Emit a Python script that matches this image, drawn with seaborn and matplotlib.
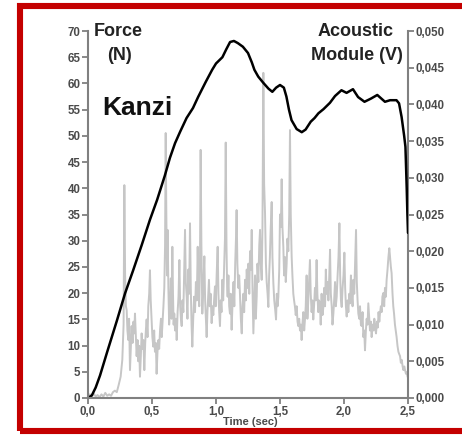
import matplotlib
matplotlib.use("Agg")
import matplotlib.pyplot as plt
import matplotlib.patches as mpatches
import seaborn as sns

# force trace (N)
force_t = [0.00, 0.03, 0.06, 0.094, 0.15, 0.225, 0.29, 0.352, 0.42, 0.484,
           0.54, 0.60, 0.64, 0.68, 0.72, 0.77, 0.82, 0.86, 0.92, 0.97,
           1.00, 1.05, 1.08, 1.11, 1.14, 1.17, 1.21, 1.25, 1.28, 1.30,
           1.33, 1.37, 1.41, 1.44, 1.47, 1.50, 1.53, 1.55, 1.57, 1.59,
           1.63, 1.67, 1.70, 1.74, 1.77, 1.80, 1.84, 1.89, 1.93, 1.98,
           2.02, 2.07, 2.11, 2.16, 2.21, 2.26, 2.32, 2.36, 2.41, 2.43,
           2.45, 2.47, 2.48, 2.49, 2.495, 2.50]
force_n = [0.0, 0.5, 2.0, 4.3, 8.8, 14.7, 20.0, 24.3, 29.2, 34.0,
           37.8, 42.4, 45.8, 48.6, 50.8, 53.4, 55.3, 57.4, 60.3, 62.6,
           63.8, 65.0, 66.5, 67.9, 68.1, 67.7, 67.0, 65.8, 64.0, 62.6,
           61.3, 60.1, 59.0, 58.4, 59.2, 59.7, 59.2, 57.5, 55.0, 53.0,
           51.3, 50.7, 51.2, 52.7, 53.4, 54.3, 55.1, 56.3, 57.6, 58.7,
           58.2, 58.9, 57.4, 56.5, 57.1, 57.8, 56.5, 56.8, 56.8, 56.2,
           53.6, 50.0, 47.9, 40.0, 35.3, 31.5]

# acoustic module trace (V)
acoustic_t = [
    0.000, 0.015, 0.030, 0.045, 0.060, 0.075, 0.090, 0.105, 0.120, 0.135,
    0.150, 0.165, 0.180, 0.195, 0.210, 0.225, 0.240, 0.255, 0.268, 0.278,
    0.284, 0.290, 0.296, 0.302, 0.308, 0.315, 0.321, 0.328, 0.334, 0.341,
    0.348, 0.355, 0.361, 0.367, 0.374, 0.380, 0.387, 0.393, 0.400, 0.406,
    0.413, 0.419, 0.426, 0.433, 0.440, 0.447, 0.452, 0.458, 0.465, 0.471,
    0.478, 0.484, 0.490, 0.497, 0.503, 0.510, 0.517, 0.523, 0.530, 0.536,
    0.543, 0.550, 0.556, 0.563, 0.570, 0.576, 0.583, 0.589, 0.596, 0.602,
    0.607, 0.612, 0.617, 0.622, 0.628, 0.634, 0.641, 0.647, 0.653, 0.659,
    0.664, 0.669, 0.674, 0.680, 0.687, 0.693, 0.700, 0.707, 0.714, 0.720,
    0.726, 0.732, 0.738, 0.745, 0.751, 0.758, 0.764, 0.771, 0.777, 0.784,
    0.790, 0.797, 0.803, 0.809, 0.815, 0.822, 0.829, 0.836, 0.843, 0.850,
    0.857, 0.863, 0.869, 0.875, 0.880, 0.886, 0.893, 0.900, 0.909, 0.915,
    0.921, 0.927, 0.933, 0.939, 0.945, 0.951, 0.958, 0.966, 0.972, 0.979,
    0.985, 0.992, 0.998, 1.005, 1.013, 1.019, 1.025, 1.031, 1.037, 1.043,
    1.049, 1.056, 1.063, 1.070, 1.076, 1.082, 1.087, 1.091, 1.097, 1.103,
    1.109, 1.115, 1.122, 1.130, 1.137, 1.143, 1.150, 1.156, 1.161, 1.167,
    1.174, 1.181, 1.188, 1.194, 1.201, 1.207, 1.214, 1.220, 1.227, 1.233,
    1.240, 1.247, 1.253, 1.260, 1.266, 1.273, 1.279, 1.285, 1.292, 1.298,
    1.305, 1.311, 1.318, 1.324, 1.331, 1.338, 1.344, 1.350, 1.357, 1.363,
    1.370, 1.376, 1.383, 1.390, 1.396, 1.403, 1.409, 1.415, 1.421, 1.427,
    1.435, 1.441, 1.448, 1.455, 1.462, 1.469, 1.475, 1.481, 1.487, 1.494,
    1.500, 1.507, 1.513, 1.519, 1.526, 1.532, 1.539, 1.545, 1.552, 1.558,
    1.565, 1.572, 1.578, 1.584, 1.591, 1.597, 1.604, 1.610, 1.617, 1.623,
    1.630, 1.637, 1.643, 1.650, 1.656, 1.663, 1.669, 1.675, 1.682, 1.689,
    1.695, 1.701, 1.708, 1.714, 1.721, 1.727, 1.734, 1.740, 1.747, 1.753,
    1.760, 1.766, 1.773, 1.779, 1.786, 1.792, 1.799, 1.805, 1.812, 1.818,
    1.825, 1.832, 1.839, 1.845, 1.852, 1.858, 1.865, 1.872, 1.878, 1.885,
    1.891, 1.897, 1.904, 1.910, 1.917, 1.923, 1.930, 1.936, 1.943, 1.950,
    1.957, 1.964, 1.970, 1.976, 1.982, 1.989, 1.996, 2.003, 2.009, 2.015,
    2.021, 2.028, 2.034, 2.041, 2.047, 2.054, 2.060, 2.067, 2.073, 2.080,
    2.087, 2.094, 2.100, 2.106, 2.112, 2.119, 2.125, 2.132, 2.138, 2.145,
    2.151, 2.158, 2.164, 2.171, 2.177, 2.184, 2.190, 2.197, 2.203, 2.210,
    2.216, 2.223, 2.230, 2.237, 2.243, 2.250, 2.257, 2.264, 2.270, 2.276,
    2.281, 2.288, 2.294, 2.300, 2.307, 2.314, 2.320, 2.327, 2.333, 2.340,
    2.347, 2.354, 2.360, 2.366, 2.372, 2.379, 2.385, 2.391, 2.398, 2.404,
    2.411, 2.418, 2.425, 2.431, 2.438, 2.444, 2.451, 2.458, 2.464, 2.471,
    2.477, 2.484, 2.490, 2.497, 2.500]
acoustic_v = [
    0.0003, 0.0005, 0.0002, 0.0006, 0.0002, 0.0004, 0.0001, 0.0005, 0.0002, 0.0007,
    0.0003, 0.0005, 0.0003, 0.0008, 0.0010, 0.0008, 0.0018, 0.0029, 0.0052, 0.0100,
    0.0290, 0.0167, 0.0125, 0.0120, 0.0092, 0.0079, 0.0108, 0.0038, 0.0067, 0.0098,
    0.0075, 0.0104, 0.0088, 0.0115, 0.0083, 0.0057, 0.0079, 0.0050, 0.0071, 0.0029,
    0.0058, 0.0088, 0.0067, 0.0079, 0.0038, 0.0075, 0.0092, 0.0107, 0.0083, 0.0125,
    0.0142, 0.0174, 0.0133, 0.0107, 0.0083, 0.0070, 0.0092, 0.0063, 0.0075, 0.0033,
    0.0063, 0.0079, 0.0067, 0.0093, 0.0108, 0.0083, 0.0104, 0.0124, 0.0150, 0.0208,
    0.0361, 0.0250, 0.0167, 0.0229, 0.0150, 0.0100, 0.0124, 0.0163, 0.0108, 0.0206,
    0.0142, 0.0100, 0.0115, 0.0092, 0.0108, 0.0079, 0.0117, 0.0138, 0.0188, 0.0125,
    0.0108, 0.0098, 0.0133, 0.0117, 0.0167, 0.0229, 0.0158, 0.0138, 0.0108, 0.0175,
    0.0142, 0.0238, 0.0150, 0.0100, 0.0070, 0.0108, 0.0138, 0.0117, 0.0158, 0.0133,
    0.0206, 0.0150, 0.0125, 0.0192, 0.0338, 0.0208, 0.0115, 0.0146, 0.0193, 0.0133,
    0.0108, 0.0083, 0.0117, 0.0138, 0.0161, 0.0125, 0.0142, 0.0102, 0.0125, 0.0113,
    0.0133, 0.0152, 0.0125, 0.0167, 0.0206, 0.0142, 0.0117, 0.0098, 0.0133, 0.0117,
    0.0161, 0.0133, 0.0175, 0.0217, 0.0348, 0.0208, 0.0150, 0.0138, 0.0167, 0.0125,
    0.0115, 0.0142, 0.0093, 0.0133, 0.0158, 0.0125, 0.0183, 0.0217, 0.0256, 0.0183,
    0.0150, 0.0167, 0.0138, 0.0108, 0.0088, 0.0125, 0.0142, 0.0117, 0.0161, 0.0133,
    0.0175, 0.0150, 0.0183, 0.0142, 0.0200, 0.0175, 0.0229, 0.0150, 0.0088, 0.0125,
    0.0167, 0.0108, 0.0138, 0.0183, 0.0158, 0.0208, 0.0229, 0.0183, 0.0161, 0.0233,
    0.0443, 0.0292, 0.0252, 0.0183, 0.0158, 0.0142, 0.0124, 0.0167, 0.0192, 0.0229,
    0.0267, 0.0192, 0.0157, 0.0133, 0.0121, 0.0107, 0.0142, 0.0125, 0.0138, 0.0175,
    0.0250, 0.0233, 0.0298, 0.0233, 0.0206, 0.0167, 0.0192, 0.0158, 0.0183, 0.0217,
    0.0200, 0.0250, 0.0365, 0.0250, 0.0193, 0.0167, 0.0142, 0.0133, 0.0124, 0.0113,
    0.0125, 0.0104, 0.0098, 0.0108, 0.0092, 0.0100, 0.0079, 0.0100, 0.0117, 0.0092,
    0.0107, 0.0125, 0.0167, 0.0108, 0.0133, 0.0158, 0.0188, 0.0142, 0.0117, 0.0133,
    0.0107, 0.0125, 0.0150, 0.0133, 0.0188, 0.0142, 0.0117, 0.0133, 0.0129, 0.0100,
    0.0142, 0.0113, 0.0124, 0.0150, 0.0125, 0.0175, 0.0142, 0.0158, 0.0133, 0.0167,
    0.0202, 0.0142, 0.0125, 0.0100, 0.0115, 0.0133, 0.0158, 0.0125, 0.0138, 0.0167,
    0.0192, 0.0238, 0.0167, 0.0133, 0.0124, 0.0150, 0.0167, 0.0198, 0.0150, 0.0125,
    0.0111, 0.0133, 0.0117, 0.0142, 0.0129, 0.0167, 0.0142, 0.0125, 0.0161, 0.0142,
    0.0183, 0.0229, 0.0158, 0.0133, 0.0115, 0.0108, 0.0125, 0.0100, 0.0098, 0.0117,
    0.0083, 0.0092, 0.0065, 0.0092, 0.0108, 0.0100, 0.0129, 0.0108, 0.0092, 0.0104,
    0.0083, 0.0100, 0.0092, 0.0108, 0.0096, 0.0088, 0.0104, 0.0096, 0.0117, 0.0104,
    0.0115, 0.0125, 0.0117, 0.0138, 0.0143, 0.0125, 0.0150, 0.0138, 0.0161, 0.0175,
    0.0192, 0.0204, 0.0192, 0.0179, 0.0170, 0.0142, 0.0125, 0.0115, 0.0100, 0.0092,
    0.0083, 0.0071, 0.0063, 0.0060, 0.0057, 0.0048, 0.0052, 0.0043, 0.0038, 0.0043,
    0.0038, 0.0033, 0.0035, 0.0029, 0.0028]

x_ticks = [0.0, 0.5, 1.0, 1.5, 2.0, 2.5]
x_labels = ["0,0", "0,5", "1,0", "1,5", "2,0", "2,5"]
force_ticks = list(range(0, 75, 5))
volt_ticks = [0.0, 0.005, 0.010, 0.015, 0.020, 0.025,
              0.030, 0.035, 0.040, 0.045, 0.050]
volt_labels = ["0,000", "0,005", "0,010", "0,015", "0,020", "0,025",
               "0,030", "0,035", "0,040", "0,045", "0,050"]

sns.set_style("white")
plt.rcParams["font.family"] = ["Liberation Sans", "DejaVu Sans"]

fig = plt.figure(figsize=(4.62, 4.37), dpi=100)
ax = fig.add_axes([88 / 462, 39 / 437, 320 / 462, 367 / 437])
ax2 = ax.twinx()

sns.lineplot(x=acoustic_t, y=acoustic_v, ax=ax2, color="#c6c6c6", lw=1.4,
             estimator=None, sort=False)
sns.lineplot(x=force_t, y=force_n, ax=ax, color="black", lw=1.8,
             estimator=None, sort=False)

# force curve on top of the acoustic trace
ax.set_zorder(ax2.get_zorder() + 1)
ax.patch.set_visible(False)

ax.set_xlim(0, 2.5)
ax.set_ylim(0, 70)
ax2.set_ylim(0, 0.05)

axis_col = "#808080"
lab_col = "#4a4a4a"
for a in (ax, ax2):
    for s in a.spines.values():
        s.set_visible(False)
ax.spines["left"].set_visible(True)
ax.spines["bottom"].set_visible(True)
ax2.spines["right"].set_visible(True)
for s in (ax.spines["left"], ax.spines["bottom"], ax2.spines["right"]):
    s.set_color(axis_col)
    s.set_linewidth(1.5)

ax.set_xticks(x_ticks)
ax.set_xticklabels(x_labels)
ax.set_yticks(force_ticks)
ax2.set_yticks(volt_ticks)
ax2.set_yticklabels(volt_labels)

ax.tick_params(axis="both", direction="out", length=4, width=1.3,
               color=axis_col, labelsize=8.3, labelcolor=lab_col, pad=1.5,
               left=True, bottom=True)
ax2.tick_params(axis="y", direction="out", length=4, width=1.3,
                color=axis_col, labelsize=8.3, labelcolor=lab_col, pad=1.5,
                right=True)
for lab in ax.get_xticklabels() + ax.get_yticklabels() + ax2.get_yticklabels():
    lab.set_fontweight("bold")
ax.set_xlabel("")
ax.set_ylabel("")
ax2.set_ylabel("")

txt_col = "#222222"
fig.text(118 / 462, 1 - 32 / 437, "Force", ha="center", va="center",
         fontsize=13, fontweight="bold", color=txt_col)
fig.text(119 / 462, 1 - 56 / 437, "(N)", ha="center", va="center",
         fontsize=13, fontweight="bold", color=txt_col)
fig.text(102 / 462, 1 - 108 / 437, "Kanzi", ha="left", va="center",
         fontsize=19, fontweight="bold", color="#111111")
fig.text(356 / 462, 1 - 31 / 437, "Acoustic", ha="center", va="center",
         fontsize=13, fontweight="bold", color=txt_col)
fig.text(357 / 462, 1 - 56 / 437, "Module (V)", ha="center", va="center",
         fontsize=13, fontweight="bold", color=txt_col)
fig.text(250 / 462, 1 - 422 / 437, "Time (sec)", ha="center", va="center",
         fontsize=8, fontweight="bold", color=lab_col)

# red frame around the figure (open on the right side)
frame = mpatches.Rectangle((20 / 462, 6 / 437), 480 / 462, 425 / 437,
                           transform=fig.transFigure, fill=False,
                           edgecolor="#c40000", linewidth=4.4, clip_on=False)
fig.patches.append(frame)

fig.savefig("out.png", dpi=100)
